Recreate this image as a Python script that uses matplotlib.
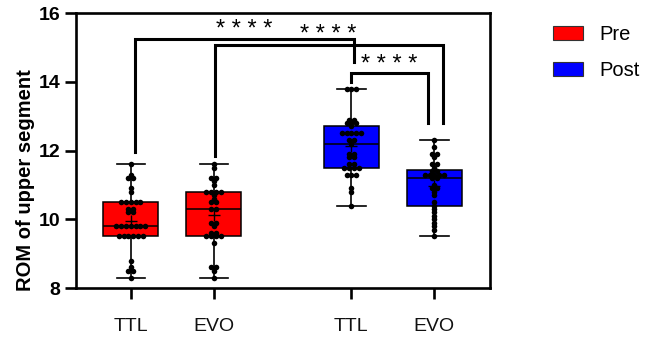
import matplotlib
matplotlib.use("Agg")
import matplotlib.pyplot as plt
from matplotlib.patches import Patch
import numpy as np
from collections import Counter

plt.rcParams['font.family'] = ['Liberation Sans', 'DejaVu Sans']

# values (ROM of upper segment)
ttl_pre = [11.6, 11.3, 11.2, 11.2, 10.9, 10.8, 10.5, 10.5, 10.5, 10.5, 10.5,
           10.3, 10.3, 10.2, 10.2, 9.8, 9.8, 9.8, 9.8, 9.8, 9.8, 9.8,
           9.5, 9.5, 9.5, 9.5, 9.5, 9.5, 8.8, 8.6, 8.5, 8.5, 8.3]
evo_pre = [11.6, 11.5, 11.2, 11.2, 11.1, 11.0, 10.8, 10.8, 10.8, 10.8, 10.7,
           10.6, 10.5, 10.5, 10.3, 10.3, 9.9, 9.9, 9.8, 9.6, 9.6,
           9.5, 9.5, 9.5, 9.5, 9.3, 8.6, 8.6, 8.5, 8.3]
ttl_post = [13.8, 13.8, 13.8, 12.9, 12.9, 12.8, 12.8, 12.8, 12.7,
            12.5, 12.5, 12.5, 12.5, 12.5, 12.3, 12.3, 12.2, 11.9, 11.9,
            11.8, 11.8, 11.6, 11.6, 11.5, 11.5, 11.5, 11.5,
            11.3, 11.3, 11.3, 10.9, 10.8, 10.4]
evo_post = [12.3, 12.1, 11.9, 11.9, 11.8, 11.6, 11.6, 11.5, 11.4, 11.4,
            11.3, 11.3, 11.3, 11.3, 11.3, 11.2, 11.2, 11.0, 10.9, 10.9,
            10.8, 10.7, 10.5, 10.4, 10.3, 10.2, 10.1, 10.0, 9.9, 9.8, 9.7, 9.5]

groups = [ttl_pre, evo_pre, ttl_post, evo_post]
tick_labels = ['TTL', 'EVO', 'TTL', 'EVO']
colors = ['#FF0000', '#FF0000', '#0000FF', '#0000FF']
positions = [1, 2, 3.66, 4.66]
legend_labels = ['Pre', 'Post']

# significance brackets: (x1, x2, y, leg1 bottom, leg2 bottom, label)
brackets = [
    (1.05, 3.69, 15.24, 11.95, 14.57, '* * * *'),
    (2.01, 4.76, 15.07, 11.85, 12.80, '* * * *'),
    (3.66, 4.58, 14.25, 13.99, 12.80, '* * * *'),
]
star_y = [15.33, 15.18, 14.31]

fig = plt.figure(figsize=(6.46, 3.37), dpi=100)
ax = fig.add_axes([0.1176, 0.1454, 0.6409, 0.816])

bp = ax.boxplot(groups, positions=positions, widths=0.66, whis=(0, 100),
                patch_artist=True, showfliers=False, showmeans=True,
                capwidths=0.34,
                meanprops=dict(marker='+', markeredgecolor='black',
                               markersize=9, markeredgewidth=1),
                medianprops=dict(color='black', linewidth=1.1),
                whiskerprops=dict(color='black', linewidth=1.2),
                capprops=dict(color='black', linewidth=1.2),
                boxprops=dict(edgecolor='black', linewidth=1.1))
for patch, c in zip(bp['boxes'], colors):
    patch.set_facecolor(c)

# swarm-like dots: equal values spread side by side
step = 0.058
for pos, vals in zip(positions, groups):
    counts = Counter(vals)
    xs, ys = [], []
    for v, n in counts.items():
        for i in range(n):
            xs.append(pos + (i - (n - 1) / 2) * step)
            ys.append(v)
    ax.scatter(xs, ys, s=16, color='black', zorder=5, linewidths=0)

for (x1, x2, y, b1, b2, lab), sy in zip(brackets, star_y):
    ax.plot([x1, x1, x2, x2], [b1, y, y, b2], color='black', lw=2.2,
            solid_joinstyle='miter', zorder=6)
    ax.text((x1 + x2) / 2, sy, lab, ha='center', va='baseline', fontsize=17)

ax.set_xlim(0.34, 5.33)
ax.set_ylim(8, 16)
ax.set_yticks([8, 10, 12, 14, 16])
ax.set_xticks(positions)
ax.set_xticklabels(tick_labels, fontsize=14, color='#111111')
for lbl in ax.get_yticklabels():
    lbl.set_fontsize(14)
    lbl.set_fontweight('bold')
ax.set_ylabel('ROM of upper segment', fontsize=14.5, fontweight='bold')
ax.yaxis.set_label_coords(-0.1, 0.393)
for sp in ax.spines.values():
    sp.set_linewidth(1.9)
ax.tick_params(axis='y', length=8, width=1.9, pad=3)
ax.tick_params(axis='x', length=8, width=1.9, pad=13.5)

handles = [Patch(facecolor='#FF0000', edgecolor='#333333', linewidth=0.8),
           Patch(facecolor='#0000FF', edgecolor='#333333', linewidth=0.8)]
fig.legend(handles, legend_labels, loc='upper left', bbox_to_anchor=(0.841, 0.955),
           frameon=False, fontsize=14.5, handlelength=1.45, handleheight=0.7,
           handletextpad=0.85, labelspacing=0.85, borderpad=0)

fig.savefig('out.png', dpi=100)
